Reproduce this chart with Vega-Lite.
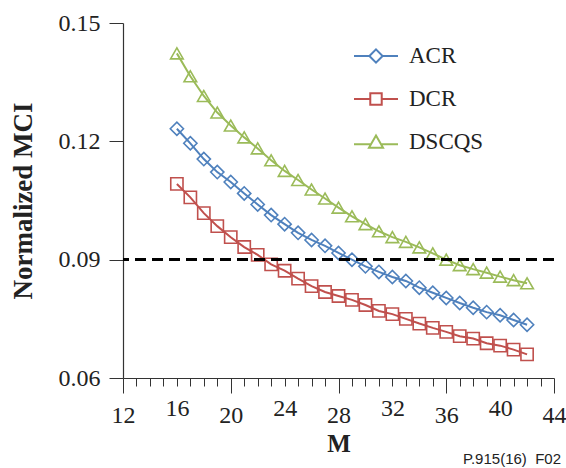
{
  "$schema": "https://vega.github.io/schema/vega-lite/v6.json",
  "width": 431,
  "height": 355,
  "autosize": {"type": "none"},
  "padding": {"left": 123, "top": 23, "right": 12, "bottom": 90},
  "background": "white",
  "config": {
    "view": {"stroke": null},
    "axis": {"grid": false, "domainColor": "#333", "tickColor": "#333", "labelFont": "Liberation Serif", "labelFontSize": 24, "labelColor": "#222", "titleFont": "Liberation Serif", "titleFontWeight": "bold", "titleColor": "#222", "domainWidth": 1.2, "tickWidth": 1}
  },
  "title": {"text": "P.915(16)\u00a0 F02", "orient": "bottom", "anchor": "end", "frame": "group", "font": "Liberation Sans", "fontSize": 15, "fontWeight": "normal", "color": "#222", "offset": -4, "dx": 7},
  "data": {"values": [
    {"M":16,"method":"ACR","MCI":0.1232},{"M":17,"method":"ACR","MCI":0.1195},{"M":18,"method":"ACR","MCI":0.1155},{"M":19,"method":"ACR","MCI":0.1122},{"M":20,"method":"ACR","MCI":0.1097},{"M":21,"method":"ACR","MCI":0.1068},{"M":22,"method":"ACR","MCI":0.1040},{"M":23,"method":"ACR","MCI":0.1013},{"M":24,"method":"ACR","MCI":0.0990},{"M":25,"method":"ACR","MCI":0.0968},{"M":26,"method":"ACR","MCI":0.0950},{"M":27,"method":"ACR","MCI":0.0935},{"M":28,"method":"ACR","MCI":0.0917},{"M":29,"method":"ACR","MCI":0.0900},{"M":30,"method":"ACR","MCI":0.0883},{"M":31,"method":"ACR","MCI":0.0869},{"M":32,"method":"ACR","MCI":0.0856},{"M":33,"method":"ACR","MCI":0.0846},{"M":34,"method":"ACR","MCI":0.0829},{"M":35,"method":"ACR","MCI":0.0816},{"M":36,"method":"ACR","MCI":0.0803},{"M":37,"method":"ACR","MCI":0.0790},{"M":38,"method":"ACR","MCI":0.0778},{"M":39,"method":"ACR","MCI":0.0767},{"M":40,"method":"ACR","MCI":0.0759},{"M":41,"method":"ACR","MCI":0.0747},{"M":42,"method":"ACR","MCI":0.0735},
    {"M":16,"method":"DCR","MCI":0.1092},{"M":17,"method":"DCR","MCI":0.1058},{"M":18,"method":"DCR","MCI":0.1018},{"M":19,"method":"DCR","MCI":0.0985},{"M":20,"method":"DCR","MCI":0.0957},{"M":21,"method":"DCR","MCI":0.0932},{"M":22,"method":"DCR","MCI":0.0912},{"M":23,"method":"DCR","MCI":0.0888},{"M":24,"method":"DCR","MCI":0.0872},{"M":25,"method":"DCR","MCI":0.0852},{"M":26,"method":"DCR","MCI":0.0833},{"M":27,"method":"DCR","MCI":0.0818},{"M":28,"method":"DCR","MCI":0.0808},{"M":29,"method":"DCR","MCI":0.0798},{"M":30,"method":"DCR","MCI":0.0785},{"M":31,"method":"DCR","MCI":0.0770},{"M":32,"method":"DCR","MCI":0.0762},{"M":33,"method":"DCR","MCI":0.0750},{"M":34,"method":"DCR","MCI":0.0738},{"M":35,"method":"DCR","MCI":0.0727},{"M":36,"method":"DCR","MCI":0.0717},{"M":37,"method":"DCR","MCI":0.0706},{"M":38,"method":"DCR","MCI":0.0700},{"M":39,"method":"DCR","MCI":0.0688},{"M":40,"method":"DCR","MCI":0.0682},{"M":41,"method":"DCR","MCI":0.0672},{"M":42,"method":"DCR","MCI":0.0660},
    {"M":16,"method":"DSCQS","MCI":0.1423},{"M":17,"method":"DSCQS","MCI":0.1365},{"M":18,"method":"DSCQS","MCI":0.1315},{"M":19,"method":"DSCQS","MCI":0.1273},{"M":20,"method":"DSCQS","MCI":0.1240},{"M":21,"method":"DSCQS","MCI":0.1210},{"M":22,"method":"DSCQS","MCI":0.1182},{"M":23,"method":"DSCQS","MCI":0.1152},{"M":24,"method":"DSCQS","MCI":0.1125},{"M":25,"method":"DSCQS","MCI":0.1102},{"M":26,"method":"DSCQS","MCI":0.1078},{"M":27,"method":"DSCQS","MCI":0.1055},{"M":28,"method":"DSCQS","MCI":0.1032},{"M":29,"method":"DSCQS","MCI":0.1010},{"M":30,"method":"DSCQS","MCI":0.0990},{"M":31,"method":"DSCQS","MCI":0.0972},{"M":32,"method":"DSCQS","MCI":0.0957},{"M":33,"method":"DSCQS","MCI":0.0945},{"M":34,"method":"DSCQS","MCI":0.0931},{"M":35,"method":"DSCQS","MCI":0.0916},{"M":36,"method":"DSCQS","MCI":0.0900},{"M":37,"method":"DSCQS","MCI":0.0886},{"M":38,"method":"DSCQS","MCI":0.0876},{"M":39,"method":"DSCQS","MCI":0.0867},{"M":40,"method":"DSCQS","MCI":0.0857},{"M":41,"method":"DSCQS","MCI":0.0848},{"M":42,"method":"DSCQS","MCI":0.0840}
  ]},
  "encoding": {
    "x": {"field": "M", "type": "quantitative", "scale": {"domain": [12, 44], "nice": false, "zero": false},
      "axis": {"title": "M", "titleFontSize": 25, "titlePadding": 4,
        "values": [12,13,14,15,16,17,18,19,20,21,22,23,24,25,26,27,28,29,30,31,32,33,34,35,36,37,38,39,40,41,42,43,44],
        "labelExpr": "datum.value % 4 === 0 ? datum.label : ''", "labelOverlap": false, "labelFlush": false,
        "tickSize": {"condition": {"test": "datum.value % 8 === 4", "value": 15}, "value": 8},
        "labelPadding": 10}},
    "y": {"field": "MCI", "type": "quantitative", "scale": {"domain": [0.06, 0.15], "nice": false, "zero": false},
      "axis": {"title": "Normalized MCI", "titleFontSize": 27, "values": [0.06, 0.09, 0.12, 0.15], "format": ".2f", "tickSize": 14, "labelPadding": 9, "titlePadding": 21, "labelFlush": false}},
    "color": {"field": "method", "type": "nominal", "scale": {"domain": ["ACR", "DCR", "DSCQS"], "range": ["#4F81BD", "#C0504D", "#9BBB59"]},
      "legend": {"orient": "none", "legendX": 230, "legendY": 10, "title": null, "symbolSize": 1936, "symbolStrokeWidth": 2, "symbolFillColor": "transparent", "labelFont": "Liberation Serif", "labelFontSize": 23, "labelColor": "#222", "labelOffset": 10, "rowPadding": 8,
        "encode": {"symbols": {"update": {"shape": {"signal": "datum.value === 'ACR' ? 'M-1,0H-0.3M0.3,0H1M0,-0.3L0.3,0L0,0.3L-0.3,0Z' : datum.value === 'DCR' ? 'M-1,0H-0.26M0.26,0H1M-0.26,-0.26H0.26V0.26H-0.26Z' : 'M-1,0.1H-0.26M0.26,0.1H1M0,-0.3L0.32,0.26L-0.32,0.26Z'"}}}}}}
  },
  "layer": [
    {"mark": {"type": "line", "strokeWidth": 2}},
    {"transform": [{"filter": "datum.method === 'ACR'"}],
      "mark": {"type": "point", "shape": "diamond", "filled": false, "strokeWidth": 1.6, "size": 175, "opacity": 1}},
    {"transform": [{"filter": "datum.method === 'DCR'"}],
      "mark": {"type": "point", "shape": "square", "filled": false, "strokeWidth": 1.6, "size": 150, "opacity": 1}},
    {"transform": [{"filter": "datum.method === 'DSCQS'"}],
      "mark": {"type": "point", "shape": "triangle-up", "filled": false, "strokeWidth": 1.6, "size": 160, "opacity": 1}},
    {"mark": {"type": "rule", "color": "black", "strokeWidth": 2, "strokeDash": [11, 6]},
      "encoding": {"y": {"datum": 0.09}, "x": null, "color": null}}
  ]
}
